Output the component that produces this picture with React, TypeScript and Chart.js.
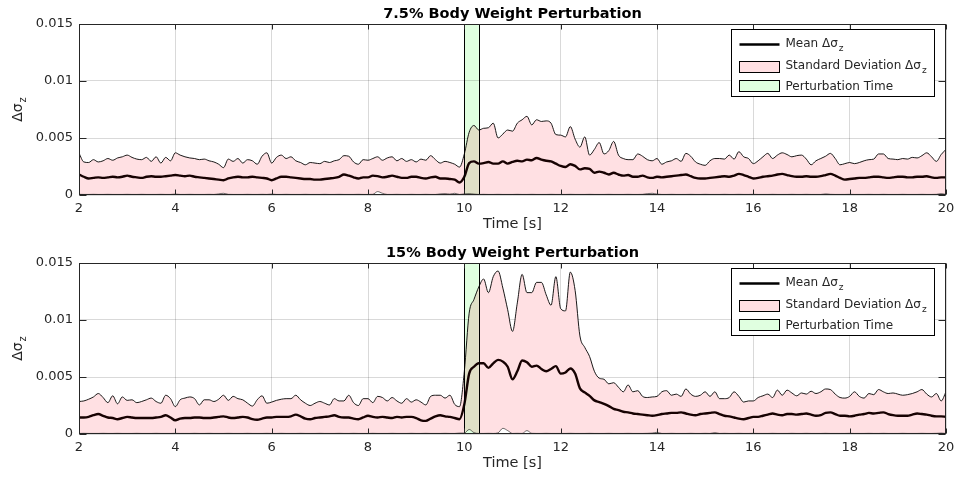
import React, { useEffect, useRef } from 'react';
import { Chart, registerables } from 'chart.js';

Chart.register(...registerables);

// sampling grid of the recorded signals [s]
const T_START = 2;
const T_STEP = 0.1;

// perturbation window [s]
const PERTURB_START = 10;
const PERTURB_END = 10.3;

const X_TICKS = [2, 4, 6, 8, 10, 12, 14, 16, 18, 20];
const Y_TICKS = [0, 0.005, 0.01, 0.015];

// all series below are in units of 1e-3
const UNIT = 1e-3;

// 7.5% body weight
const mean75 = [
  1.8, 1.6, 1.45, 1.5, 1.55, 1.5, 1.55, 1.6, 1.55, 1.6,
  1.7, 1.6, 1.55, 1.5, 1.6, 1.65, 1.6, 1.6, 1.65, 1.7,
  1.75, 1.7, 1.65, 1.7, 1.6, 1.55, 1.5, 1.45, 1.4, 1.35,
  1.3, 1.45, 1.55, 1.6, 1.55, 1.55, 1.6, 1.55, 1.5, 1.45,
  1.3, 1.45, 1.6, 1.6, 1.55, 1.5, 1.45, 1.4, 1.4, 1.35,
  1.35, 1.4, 1.45, 1.5, 1.6, 1.8, 1.7, 1.55, 1.45, 1.55,
  1.55, 1.7, 1.65, 1.55, 1.6, 1.7, 1.6, 1.5, 1.5, 1.6,
  1.6, 1.5, 1.45, 1.55, 1.6, 1.45, 1.45, 1.4, 1.35, 1.1,
  1.6, 2.8, 2.95, 2.75, 2.8, 2.9, 2.75, 2.75, 2.95, 2.75,
  2.9, 3.0, 2.95, 3.1, 3.05, 3.25, 3.1, 3.0, 2.95, 2.75,
  2.55, 2.45, 2.7, 2.55, 2.25, 2.35, 2.3, 1.95, 2.05, 1.95,
  1.8, 1.95, 1.8, 1.7, 1.75, 1.6, 1.6, 1.7, 1.55, 1.5,
  1.6, 1.55, 1.6, 1.65, 1.7, 1.75, 1.8, 1.65, 1.5, 1.45,
  1.45, 1.5, 1.55, 1.6, 1.65, 1.6, 1.7, 1.85, 1.75, 1.6,
  1.45, 1.5, 1.6, 1.65, 1.7, 1.8, 1.85, 1.75, 1.65, 1.6,
  1.6, 1.65, 1.6, 1.6, 1.65, 1.75, 1.85, 1.7, 1.5, 1.35,
  1.4, 1.45, 1.5, 1.5, 1.55, 1.6, 1.6, 1.55, 1.5, 1.55,
  1.6, 1.6, 1.55, 1.55, 1.6, 1.6, 1.65, 1.55, 1.5, 1.55,
  1.55,
];

const upper75 = [
  3.67, 2.9, 2.85, 3.1, 2.9, 3.0, 3.2, 3.05, 3.25, 3.35,
  3.5, 3.3, 3.15, 3.1, 3.3, 2.95, 3.35, 2.8, 3.3, 3.0,
  3.7, 3.5, 3.35, 3.25, 3.2, 3.1, 3.15, 3.0, 2.9, 2.7,
  2.4, 3.15, 2.95, 3.2, 2.8, 3.1, 3.0, 2.7, 3.4, 3.7,
  2.8, 3.3, 3.5, 3.2, 3.35, 3.0, 2.85, 2.65, 2.85, 2.8,
  2.75, 2.95, 2.85, 3.0, 3.1, 3.45, 3.4, 2.9, 2.7, 3.1,
  3.05, 3.2, 3.35, 3.05, 3.25, 3.35, 3.0, 3.2, 2.95, 3.1,
  2.9, 3.15, 3.05, 3.45, 3.1, 2.8, 2.95, 2.85, 2.7, 2.45,
  3.6, 5.5, 6.1, 5.7, 5.85, 5.9, 6.3, 5.0, 5.35, 5.7,
  5.6, 6.3, 6.6, 6.9, 6.15, 6.6, 6.45, 6.5, 6.3, 5.3,
  5.25, 5.1, 6.0, 4.9, 4.2, 5.1, 3.5, 4.0, 4.6, 3.6,
  3.9, 4.7, 3.5, 3.2, 3.1, 3.1, 3.6, 3.4, 3.1, 3.0,
  3.2, 2.7, 2.9, 3.0, 3.2, 2.95, 3.65, 3.4, 2.9, 2.7,
  2.6, 3.0, 3.2, 3.2, 3.15, 3.5, 3.15, 3.8, 3.35, 3.2,
  2.75, 3.0, 3.35, 3.65, 3.2, 3.5, 3.7, 3.55, 3.35, 3.45,
  3.5, 3.15, 2.65, 3.0, 3.2, 3.4, 3.65, 3.2, 2.65, 2.75,
  2.85, 2.75, 2.85, 3.0, 3.1, 3.15, 3.6, 3.6, 3.2, 3.15,
  3.1, 3.2, 3.15, 3.3, 3.25, 3.45, 3.7, 3.35, 2.95, 3.55,
  4.0,
];

const lower75 = [
  0.06, 0.05, 0.05, 0.06, 0.05, 0.05, 0.06, 0.05, 0.05, 0.05,
  0.06, 0.05, 0.05, 0.06, 0.05, 0.05, 0.05, 0.06, 0.05, 0.05,
  0.08, 0.05, 0.05, 0.06, 0.05, 0.05, 0.05, 0.06, 0.05, 0.1,
  0.15, 0.06, 0.05, 0.05, 0.05, 0.06, 0.05, 0.05, 0.06, 0.05,
  0.08, 0.05, 0.05, 0.06, 0.05, 0.05, 0.05, 0.06, 0.05, 0.05,
  0.05, 0.06, 0.05, 0.05, 0.06, 0.05, 0.05, 0.05, 0.06, 0.05,
  0.05, 0.06, 0.3, 0.15, 0.05, 0.05, 0.06, 0.05, 0.05, 0.06,
  0.05, 0.05, 0.06, 0.05, 0.05, 0.1, 0.12, 0.08, 0.15, 0.05,
  0.1, 0.12, 0.08, 0.05, 0.06, 0.05, 0.05, 0.06, 0.05, 0.05,
  0.05, 0.06, 0.05, 0.05, 0.06, 0.05, 0.05, 0.05, 0.06, 0.05,
  0.05, 0.05, 0.06, 0.05, 0.05, 0.05, 0.06, 0.05, 0.05, 0.05,
  0.06, 0.05, 0.05, 0.05, 0.06, 0.05, 0.05, 0.06, 0.12, 0.15,
  0.08, 0.05, 0.05, 0.06, 0.05, 0.05, 0.05, 0.06, 0.05, 0.05,
  0.06, 0.05, 0.05, 0.05, 0.06, 0.05, 0.05, 0.06, 0.05, 0.05,
  0.06, 0.05, 0.05, 0.05, 0.06, 0.05, 0.05, 0.05, 0.06, 0.05,
  0.05, 0.06, 0.05, 0.05, 0.05, 0.1, 0.06, 0.05, 0.05, 0.05,
  0.06, 0.05, 0.05, 0.05, 0.06, 0.05, 0.05, 0.06, 0.05, 0.05,
  0.05, 0.06, 0.05, 0.05, 0.05, 0.06, 0.05, 0.05, 0.06, 0.12,
  0.05,
];

// 15% body weight
const mean15 = [
  1.45, 1.45, 1.5, 1.65, 1.75, 1.6, 1.45, 1.4, 1.3, 1.4,
  1.5, 1.45, 1.4, 1.4, 1.4, 1.4, 1.45, 1.5, 1.65, 1.45,
  1.2, 1.35, 1.4, 1.4, 1.45, 1.45, 1.4, 1.4, 1.45, 1.5,
  1.55, 1.45, 1.4, 1.45, 1.5, 1.45, 1.3, 1.25, 1.35, 1.45,
  1.45, 1.5, 1.5, 1.5, 1.55, 1.7, 1.55, 1.35, 1.3, 1.4,
  1.45, 1.5, 1.55, 1.65, 1.5, 1.45, 1.45, 1.35, 1.3, 1.45,
  1.6, 1.5, 1.45, 1.5, 1.45, 1.4, 1.5, 1.45, 1.5, 1.5,
  1.4, 1.2, 1.15, 1.35, 1.55, 1.65, 1.55, 1.5, 1.4, 1.3,
  2.6, 5.3, 5.9, 6.2, 6.2, 5.8, 6.2, 6.5, 6.35, 5.9,
  4.8, 5.5, 6.45, 6.3, 5.9, 6.0, 5.7, 5.5, 5.7, 5.95,
  5.3, 5.4, 5.75, 5.3, 4.0, 3.65, 3.35, 2.95, 2.8, 2.65,
  2.45, 2.2, 2.1, 1.95, 1.9, 1.8, 1.75, 1.7, 1.65, 1.6,
  1.65, 1.75, 1.8, 1.85, 1.85, 1.9, 1.8, 1.7, 1.65, 1.75,
  1.8, 1.85, 1.9, 1.75, 1.6, 1.55, 1.45, 1.35, 1.3, 1.4,
  1.5, 1.5, 1.6, 1.7, 1.8, 1.7, 1.65, 1.75, 1.75, 1.7,
  1.75, 1.8, 1.7, 1.6, 1.65, 1.85, 1.9, 1.75, 1.6, 1.6,
  1.55, 1.6, 1.7, 1.75, 1.85, 1.8, 1.85, 1.9, 1.75, 1.65,
  1.6, 1.6, 1.6, 1.7, 1.8, 1.75, 1.7, 1.6, 1.55, 1.55,
  1.5,
];

const upper15 = [
  2.85, 2.9, 3.05, 3.25, 3.55, 3.2, 2.75, 3.35, 2.65, 3.25,
  2.95, 3.0, 2.75, 2.85, 3.0, 3.15, 2.85, 2.7, 3.4, 3.1,
  2.4, 3.0, 3.15, 3.25, 3.1, 2.55, 3.0, 3.0, 2.85, 3.05,
  3.4, 2.95, 3.3, 3.1, 3.0, 2.7, 2.45, 3.0, 3.35, 2.7,
  2.8, 2.95, 3.05, 3.1, 3.1, 3.4, 3.0, 2.7, 2.5, 2.7,
  2.85, 2.7, 2.55, 3.1, 2.9, 2.9, 3.4, 2.75, 2.5, 3.1,
  3.1, 2.75, 3.3, 3.2, 2.9, 3.2, 2.9, 2.7, 3.1, 2.8,
  3.0, 2.8, 2.55, 3.3, 3.4, 3.4, 3.15, 3.4, 2.6, 2.4,
  5.5, 10.6, 11.8, 12.9, 13.6, 12.4, 13.8, 14.3, 12.8, 10.9,
  9.0, 11.5, 14.0, 12.4, 12.4, 13.3, 13.3, 12.2, 11.3, 13.8,
  11.0, 10.8, 14.2, 12.6, 8.6, 7.6, 6.8, 5.5, 4.9, 4.8,
  4.4, 4.5, 4.1, 3.7, 4.3, 3.7, 3.8, 3.3, 3.2, 3.25,
  3.3, 3.7, 3.8, 3.4, 3.5, 3.3, 3.95, 3.5, 3.3, 3.4,
  3.7, 3.3, 3.7, 3.1, 3.1, 3.2, 3.7, 3.3, 2.8, 2.9,
  2.9, 3.2, 3.35, 3.5, 3.2, 3.85, 3.4, 3.85, 3.6, 3.35,
  3.6, 3.5, 3.75, 3.55, 3.7, 3.95, 3.9, 3.5, 3.2, 3.15,
  3.3, 3.7, 3.3, 3.15, 3.55, 3.45, 3.9, 3.7, 3.55, 3.6,
  3.5, 3.4, 3.45, 3.55, 3.7, 3.9, 3.5, 3.25, 3.55, 2.9,
  3.7,
];

const lower15 = [
  0.05, 0.06, 0.05, 0.05, 0.05, 0.06, 0.05, 0.05, 0.06, 0.05,
  0.05, 0.05, 0.06, 0.05, 0.05, 0.05, 0.06, 0.05, 0.05, 0.05,
  0.06, 0.05, 0.05, 0.05, 0.06, 0.05, 0.05, 0.06, 0.05, 0.05,
  0.05, 0.06, 0.05, 0.05, 0.05, 0.06, 0.05, 0.05, 0.05, 0.06,
  0.05, 0.05, 0.06, 0.05, 0.05, 0.05, 0.06, 0.05, 0.05, 0.05,
  0.06, 0.05, 0.05, 0.05, 0.06, 0.05, 0.05, 0.06, 0.05, 0.05,
  0.05, 0.06, 0.05, 0.05, 0.05, 0.06, 0.05, 0.05, 0.05, 0.06,
  0.05, 0.05, 0.06, 0.05, 0.05, 0.05, 0.06, 0.05, 0.05, 0.08,
  0.08, 0.4, 0.12, 0.05, 0.05, 0.06, 0.05, 0.1, 0.5, 0.3,
  0.05, 0.06, 0.05, 0.3, 0.06, 0.05, 0.05, 0.06, 0.05, 0.05,
  0.05, 0.05, 0.06, 0.05, 0.05, 0.05, 0.06, 0.05, 0.05, 0.05,
  0.06, 0.05, 0.05, 0.05, 0.06, 0.05, 0.05, 0.05, 0.06, 0.08,
  0.15, 0.05, 0.05, 0.06, 0.05, 0.05, 0.05, 0.06, 0.05, 0.05,
  0.06, 0.05, 0.12, 0.05, 0.06, 0.05, 0.05, 0.06, 0.05, 0.05,
  0.06, 0.05, 0.05, 0.05, 0.06, 0.05, 0.05, 0.05, 0.06, 0.05,
  0.05, 0.06, 0.05, 0.05, 0.05, 0.06, 0.05, 0.05, 0.05, 0.05,
  0.06, 0.05, 0.05, 0.05, 0.06, 0.05, 0.05, 0.06, 0.05, 0.05,
  0.05, 0.06, 0.05, 0.05, 0.05, 0.06, 0.05, 0.05, 0.06, 0.08,
  0.05,
];

const time = mean75.map((_, i) => +(T_START + i * T_STEP).toFixed(1));

const FONT = '"DejaVu Sans", sans-serif';
const AXIS_COLOR = '#262626';
const PINK = 'rgb(255, 224, 227)';
const GREEN = 'rgb(224, 255, 224)';
const MEAN_COLOR = '#170202';

const toPoints = (vals: number[]) => vals.map((v, i) => ({ x: time[i], y: v * UNIT }));

// draws "main" followed by a subscript, left aligned at x on baseline y
const drawSub = (ctx: CanvasRenderingContext2D, main: string, sub: string, x: number, y: number, size: number, subSize: number) => {
  ctx.font = `${size}px ${FONT}`;
  ctx.fillText(main, x, y);
  const w = ctx.measureText(main).width;
  ctx.font = `${subSize}px ${FONT}`;
  ctx.fillText(sub, x + w + 1, y + 4.5);
};

const subWidth = (ctx: CanvasRenderingContext2D, main: string, sub: string, size: number, subSize: number) => {
  ctx.font = `${size}px ${FONT}`;
  const w = ctx.measureText(main).width;
  ctx.font = `${subSize}px ${FONT}`;
  return w + 1 + ctx.measureText(sub).width;
};

const makeDecor = (title: string) => ({
  id: 'decor',
  afterDatasetsDraw(chart: Chart) {
    const { ctx, chartArea: a, scales } = chart;
    const x0 = scales.x.getPixelForValue(PERTURB_START);
    const x1 = scales.x.getPixelForValue(PERTURB_END);
    ctx.save();
    ctx.globalCompositeOperation = 'multiply';
    ctx.fillStyle = GREEN;
    ctx.fillRect(x0, a.top, x1 - x0, a.bottom - a.top);
    ctx.restore();
    ctx.save();
    ctx.strokeStyle = '#000';
    ctx.lineWidth = 1;
    ctx.beginPath();
    [x0, x1].forEach((x) => {
      const px = Math.round(x) + 0.5;
      ctx.moveTo(px, a.top);
      ctx.lineTo(px, a.bottom);
    });
    ctx.stroke();
    ctx.restore();
  },
  afterDraw(chart: Chart) {
    const { ctx, chartArea: a, scales } = chart;
    ctx.save();

    // axes box with inward ticks
    const L = Math.round(a.left) + 0.5;
    const R = Math.round(a.right) - 0.5;
    const T = Math.round(a.top) + 0.5;
    const B = Math.round(a.bottom) - 0.5;
    ctx.strokeStyle = AXIS_COLOR;
    ctx.lineWidth = 1;
    ctx.strokeRect(L, T, R - L, B - T);
    ctx.beginPath();
    X_TICKS.forEach((v) => {
      const px = Math.round(scales.x.getPixelForValue(v)) + 0.5;
      ctx.moveTo(px, B);
      ctx.lineTo(px, B - 5);
      ctx.moveTo(px, T);
      ctx.lineTo(px, T + 5);
    });
    Y_TICKS.forEach((v) => {
      const py = Math.round(scales.y.getPixelForValue(v)) + 0.5;
      ctx.moveTo(L, py);
      ctx.lineTo(L + 7, py);
      ctx.moveTo(R, py);
      ctx.lineTo(R - 7, py);
    });
    ctx.stroke();

    // title
    ctx.fillStyle = '#000';
    ctx.textAlign = 'center';
    ctx.textBaseline = 'alphabetic';
    ctx.font = `bold 14.5px ${FONT}`;
    const cx = (a.left + a.right) / 2;
    ctx.fillText(title, cx, a.top - 6.5);

    // x axis label
    ctx.fillStyle = AXIS_COLOR;
    ctx.font = `14.5px ${FONT}`;
    ctx.fillText('Time [s]', cx, a.bottom + 33);

    // y axis label, rotated
    ctx.textAlign = 'left';
    ctx.save();
    ctx.translate(21.5, (a.top + a.bottom) / 2);
    ctx.rotate(-Math.PI / 2);
    const yw = subWidth(ctx, 'Δσ', 'z', 14, 10);
    drawSub(ctx, 'Δσ', 'z', -yw / 2, 0, 14, 10);
    ctx.restore();

    // legend
    const lx = Math.round(a.right - 215) + 0.5;
    const ly = Math.round(a.top + 5) + 0.5;
    const lw = 203;
    const lh = 67;
    ctx.fillStyle = '#fff';
    ctx.fillRect(lx, ly, lw, lh);
    ctx.strokeStyle = '#000';
    ctx.lineWidth = 1;
    ctx.strokeRect(lx, ly, lw, lh);

    ctx.lineWidth = 2.4;
    ctx.beginPath();
    ctx.moveTo(lx + 8, ly + 15);
    ctx.lineTo(lx + 48, ly + 15);
    ctx.stroke();

    ctx.lineWidth = 1;
    ctx.fillStyle = PINK;
    ctx.fillRect(lx + 8, ly + 32, 40, 11);
    ctx.strokeRect(lx + 8, ly + 32, 40, 11);
    ctx.fillStyle = GREEN;
    ctx.fillRect(lx + 8, ly + 51, 40, 11);
    ctx.strokeRect(lx + 8, ly + 51, 40, 11);

    ctx.fillStyle = AXIS_COLOR;
    drawSub(ctx, 'Mean Δσ', 'z', lx + 54, ly + 17.3, 12, 9);
    drawSub(ctx, 'Standard Deviation Δσ', 'z', lx + 54, ly + 39, 12, 9);
    ctx.font = `12px ${FONT}`;
    ctx.fillText('Perturbation Time', lx + 54, ly + 60.5);

    ctx.restore();
  },
});

interface PanelProps {
  title: string;
  mean: number[];
  upper: number[];
  lower: number[];
  height: number;
  padTop: number;
}

const Panel: React.FC<PanelProps> = ({ title, mean, upper, lower, height, padTop }) => {
  const canvasRef = useRef<HTMLCanvasElement | null>(null);

  useEffect(() => {
    const ctx = canvasRef.current?.getContext('2d');
    if (!ctx) return;

    const chart = new Chart(ctx, {
      type: 'line',
      data: {
        datasets: [
          {
            label: 'Mean',
            data: toPoints(mean),
            borderColor: MEAN_COLOR,
            borderWidth: 2.4,
            pointRadius: 0,
            fill: false,
            cubicInterpolationMode: 'monotone',
          },
          {
            label: 'Upper',
            data: toPoints(upper),
            borderColor: '#000',
            borderWidth: 0.9,
            pointRadius: 0,
            fill: '+1',
            backgroundColor: PINK,
            cubicInterpolationMode: 'monotone',
          },
          {
            label: 'Lower',
            data: toPoints(lower),
            borderColor: 'rgba(0,0,0,0.7)',
            borderWidth: 0.8,
            pointRadius: 0,
            fill: false,
            cubicInterpolationMode: 'monotone',
          },
        ],
      },
      options: {
        responsive: false,
        animation: false,
        events: [],
        layout: { padding: { top: padTop, right: 15, left: 0, bottom: 0 } },
        plugins: {
          legend: { display: false },
          title: { display: false },
          tooltip: { enabled: false },
          filler: { drawTime: 'beforeDatasetsDraw' },
        },
        scales: {
          x: {
            type: 'linear',
            min: 2,
            max: 20,
            afterFit: (s) => { s.height = 45; },
            afterBuildTicks: (s) => { s.ticks = X_TICKS.map((value) => ({ value })); },
            grid: { color: 'rgba(0,0,0,0.15)', drawTicks: false },
            border: { display: false },
            ticks: {
              padding: 6,
              color: AXIS_COLOR,
              font: { family: FONT, size: 13 },
              callback: (v) => `${v}`,
            },
          },
          y: {
            type: 'linear',
            min: 0,
            max: 0.015,
            afterFit: (s) => { s.width = 79; },
            afterBuildTicks: (s) => { s.ticks = Y_TICKS.map((value) => ({ value })); },
            grid: { color: 'rgba(0,0,0,0.15)', drawTicks: false },
            border: { display: false },
            ticks: {
              padding: 6,
              color: AXIS_COLOR,
              font: { family: FONT, size: 13 },
              callback: (v) => `${+Number(v).toFixed(4)}`,
            },
          },
        },
      },
      plugins: [makeDecor(title)],
    });

    return () => chart.destroy();
  }, [title, mean, upper, lower, padTop]);

  return <canvas ref={canvasRef} width={961} height={height} style={{ display: 'block' }} />;
};

const App: React.FC = () => (
  <div style={{ position: 'absolute', left: 0, top: 0, width: 961, height: 479, background: '#fff' }}>
    <Panel title="7.5% Body Weight Perturbation" mean={mean75} upper={upper75} lower={lower75} height={240} padTop={24} />
    <Panel title="15% Body Weight Perturbation" mean={mean15} upper={upper15} lower={lower15} height={239} padTop={23} />
  </div>
);

export default App;
